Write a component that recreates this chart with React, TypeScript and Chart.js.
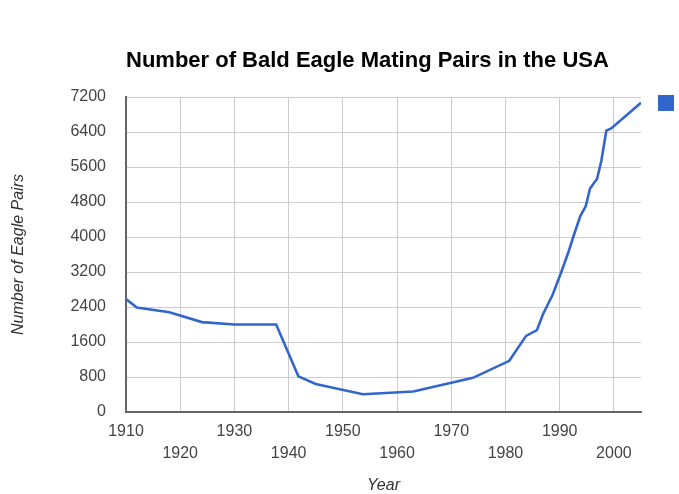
import React, { useEffect, useRef } from "react";
import { Chart, registerables } from "chart.js";

Chart.register(...registerables);

// ---- data ----
const years = [1910, 1912, 1918, 1924, 1930, 1937.7, 1941.8, 1945, 1953.7, 1963, 1974, 1980.7, 1983.8, 1985.8, 1986.9, 1988.7, 1990.3, 1991.6, 1992.5, 1993.8, 1994.8, 1995.6, 1996.9, 1997.7, 1998.6, 1999.5, 2005];
const pairs = [2580, 2390, 2280, 2055, 2000, 2000, 815, 640, 405, 470, 780, 1170, 1740, 1870, 2230, 2680, 3200, 3650, 4000, 4480, 4700, 5110, 5330, 5750, 6430, 6480, 7070];
const xTickYears = [1910, 1920, 1930, 1940, 1950, 1960, 1970, 1980, 1990, 2000];
const yTickValues = [0, 800, 1600, 2400, 3200, 4000, 4800, 5600, 6400, 7200];
const chartTitle = "Number of Bald Eagle Mating Pairs in the USA";
const xTitle = "Year";
const yTitle = "Number of Eagle Pairs";
const seriesLabel = "";

const FONT = "'Liberation Sans', Arial, sans-serif";
const BLUE = "#3366cc";

export default function App() {
  const ref = useRef<HTMLCanvasElement | null>(null);

  useEffect(() => {
    if (!ref.current) return;
    Chart.defaults.font.family = FONT;
    const chart = new Chart(ref.current, {
      type: "line",
      data: {
        datasets: [
          {
            label: seriesLabel,
            data: years.map((y, i) => ({ x: y, y: pairs[i] })),
            borderColor: BLUE,
            backgroundColor: BLUE,
            borderWidth: 2.6,
            pointRadius: 0,
            tension: 0,
            fill: false,
          },
        ],
      },
      options: {
        animation: false,
        responsive: false,
        layout: { padding: { left: 0, right: 5, top: 0, bottom: 0 } },
        plugins: {
          title: {
            display: true,
            text: chartTitle,
            align: "start",
            fullSize: false,
            color: "#000",
            font: { size: 22, weight: "bold", family: FONT, lineHeight: 1.2 },
            padding: { top: 48, bottom: 22.6 },
          },
          legend: {
            display: true,
            position: "right",
            align: "start",
            rtl: true,
            title: { display: true, text: "", font: { size: 10 }, padding: { top: 83, bottom: 0 } },
            labels: {
              boxWidth: 16,
              boxHeight: 16,
              padding: 0,
              font: { size: 14 },
              generateLabels: (c: any) =>
                Chart.defaults.plugins.legend.labels.generateLabels(c).map((l: any) => ({
                  ...l,
                  lineWidth: 0,
                  fillStyle: BLUE,
                  strokeStyle: BLUE,
                })),
            },
          },
          tooltip: { enabled: false },
        },
        scales: {
          x: {
            type: "linear",
            min: 1910,
            max: 2005,
            afterBuildTicks: (s: any) => {
              s.ticks = xTickYears.map((v) => ({ value: v }));
            },
            afterFit: (s: any) => {
              s.height = 82;
            },
            grid: { color: "#cccccc", lineWidth: 1, drawTicks: false },
            border: { color: "#666666", width: 2 },
            ticks: {
              padding: 9,
              color: "#444444",
              font: { size: 16, lineHeight: 22 / 16 },
              maxRotation: 0,
              autoSkip: false,
              callback: (v: any, i: number) => (i % 2 === 0 ? [String(v)] : ["", String(v)]),
            },
            title: {
              display: true,
              text: xTitle,
              color: "#333333",
              font: { size: 16, style: "italic", lineHeight: 1 },
              padding: { top: 0, bottom: 0 },
            },
          },
          y: {
            min: 0,
            max: 7200,
            afterBuildTicks: (s: any) => {
              s.ticks = yTickValues.map((v) => ({ value: v }));
            },
            afterFit: (s: any) => {
              s.width = 126;
            },
            grid: { color: "#cccccc", lineWidth: 1, drawTicks: false },
            border: { color: "#666666", width: 2 },
            ticks: {
              padding: 20,
              color: "#444444",
              font: { size: 16 },
              callback: (v: any) => String(v),
            },
            title: {
              display: true,
              text: yTitle,
              color: "#333333",
              font: { size: 16, style: "italic", lineHeight: 1 },
              padding: { top: 11, bottom: 0 },
            },
          },
        },
      },
    });
    return () => chart.destroy();
  }, []);

  return (
    <div style={{ position: "absolute", left: 0, top: 0, width: 679, height: 494, background: "#fff" }}>
      <canvas ref={ref} width={679} height={494} />
    </div>
  );
}
